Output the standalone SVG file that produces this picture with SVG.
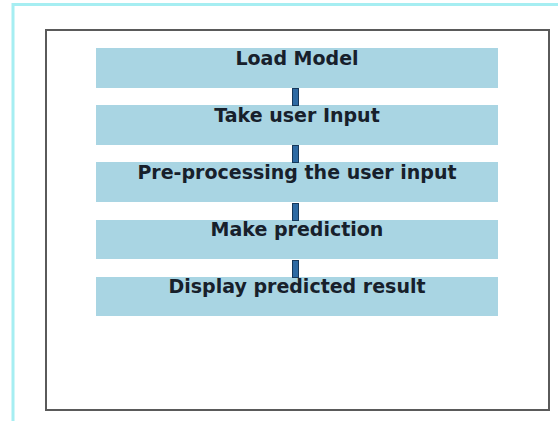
<svg xmlns="http://www.w3.org/2000/svg" width="558" height="421" viewBox="0 0 558 421">
<style>
.box{fill:#a9d5e3}
.lbl{font-family:"DejaVu Sans",sans-serif;font-weight:bold;font-size:19px;fill:#17202b;text-anchor:middle}
.conn{fill:#2e6aa3;stroke:#16385a;stroke-width:1}
</style>
<rect x="0" y="0" width="558" height="421" fill="#ffffff"/>
<path d="M13 421 V4.5 H558" fill="none" stroke="#a6eef2" stroke-width="3"/>
<rect x="46" y="30" width="503" height="380" fill="#ffffff" stroke="#5a5a5a" stroke-width="2"/>
<g id="b1"><rect class="box" x="96" y="48" width="402" height="40"/></g>
<g id="b2"><rect class="box" x="96" y="105" width="402" height="40"/></g>
<g id="b3"><rect class="box" x="96" y="162" width="402" height="40"/></g>
<g id="b4"><rect class="box" x="96" y="220" width="402" height="39"/></g>
<g id="b5"><rect class="box" x="96" y="277" width="402" height="39"/></g>
<g id="connectors">
<rect class="conn" x="292.5" y="88.5" width="6" height="17"/>
<rect class="conn" x="292.5" y="145.5" width="6" height="17"/>
<rect class="conn" x="292.5" y="203.5" width="6" height="17"/>
<rect class="conn" x="292.5" y="260.5" width="6" height="17"/>
</g>
<g id="n1"><text class="lbl" x="297" y="65">Load Model</text></g>
<g id="n2"><text class="lbl" x="297" y="122">Take user Input</text></g>
<g id="n3"><text class="lbl" x="297" y="179">Pre-processing the user input</text></g>
<g id="n4"><text class="lbl" x="297" y="236">Make prediction</text></g>
<g id="n5"><text class="lbl" x="297" y="293">Display predicted result</text></g>
</svg>
